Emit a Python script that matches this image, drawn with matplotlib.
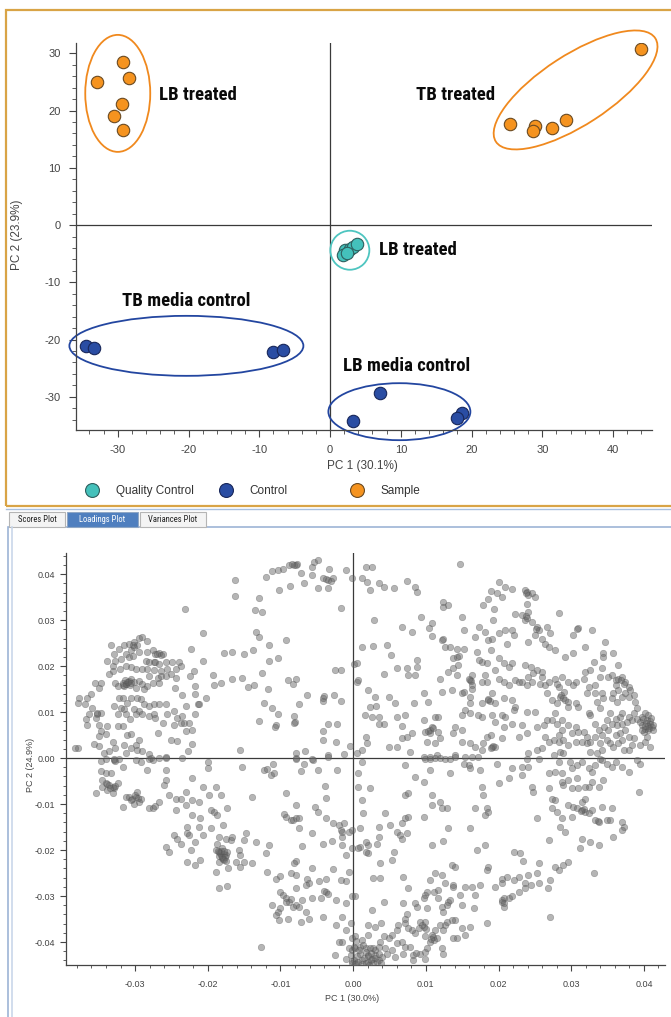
import matplotlib
matplotlib.use("Agg")
import matplotlib.pyplot as plt
from matplotlib.patches import Ellipse, Rectangle
from matplotlib.transforms import ScaledTranslation
from matplotlib.lines import Line2D
from matplotlib.ticker import MultipleLocator, FuncFormatter
from matplotlib import font_manager
import numpy as np

plt.rcParams['axes.unicode_minus'] = False
plt.rcParams['font.family'] = ['Liberation Sans', 'DejaVu Sans']

# ---------------- scores plot data ----------------
qc_pc1 = [2.1, 1.9, 2.8, 3.3, 3.8, 2.4]
qc_pc2 = [-4.4, -5.2, -4.1, -3.8, -3.3, -4.9]

control_pc1 = [-34.5, -33.3, -8.0, -6.6, 3.3, 7.1, 18.6, 17.9]
control_pc2 = [-21.2, -21.4, -22.1, -21.8, -34.3, -29.4, -32.9, -33.7]

sample_pc1 = [-29.2, -33.0, -28.4, -29.4, -30.5, -29.2, 44.0, 25.5, 29.0, 28.7, 31.4, 33.3]
sample_pc2 = [28.5, 25.0, 25.7, 21.1, 19.0, 16.6, 30.7, 17.7, 17.3, 16.4, 16.9, 18.3]

# group annotations: label, text position, ellipse centre, size (in), angle, colour
group_labels = ['LB treated', 'TB treated', 'LB treated', 'TB media control', 'LB media control']
label_pos = [(-24.1, 22.7), (12.1, 22.7), (6.9, -4.4), (-29.4, -13.3), (1.8, -24.7)]
ell_centre = [(-30.0, 23.0), (34.7, 23.6), (2.8, -4.4), (-20.3, -21.1), (9.8, -32.6)]
ell_size = [(0.65, 1.17), (1.90, 0.70), (0.39, 0.39), (2.34, 0.60), (1.42, 0.57)]
ell_angle = [0, 33, 0, 0, 0]
ell_color = ['#F0891E', '#F0891E', '#4EC5C0', '#2346A0', '#2346A0']

# ---------------- loadings plot data (values x 1e-3) ----------------
load_arch = [(-16.3,38.7),(-16.3,35.2),(-13.0,34.8),(-13.5,32.3),(-12.5,31.7),(-12.0,39.3),(-11.1,40.7),
    (-10.4,40.9),(-9.7,41.2),(-8.8,42.0),(-8.1,42.0),(-7.7,42.3),(-7.2,40.3),(-10.2,36.6),(-8.7,37.4),
    (-6.7,38.0),(-5.7,39.8),(-5.4,42.7),(-4.8,43.1),(-5.6,41.6),(-3.3,41.2),(-4.2,39.1),(-2.8,39.1),
    (-3.5,38.8),(-4.9,36.9),(-3.5,36.9),(-1.0,41.0),(-0.2,39.1),(-1.7,32.7),(-7.9,42.0),(-8.4,42.2),
    (-3.0,38.6),(-3.8,39.0)]

load_ul_scatter = [(-23.1,32.5),(-20.7,27.2),(-22.3,23.7),(-20.7,21.2),(-17.7,22.8),(-16.6,23.0),(-15.0,22.6),
    (-13.8,23.4),(-13.4,27.4),(-13.0,26.4),(-11.6,24.6),(-9.3,25.7),(-10.3,21.8),(-11.6,21.2),(-12.5,18.6),
    (-15.3,17.5),(-16.7,17.3),(-18.2,16.4),(-19.3,18.0),(-19.2,15.8),(-20.3,13.1),(-21.7,15.7),(-21.9,19.0),
    (-22.5,17.9),(-21.7,13.9),(-21.4,11.7),(-23.6,13.7),(-24.5,15.3),(-14.5,15.5),(-13.7,15.9),(-11.7,15.1),
    (-12.2,12.0),(-11.2,10.8),(-10.4,9.5),(-10.6,7.3),(-10.7,6.7),(-13.0,8.0),(-15.5,1.7),(-9.0,16.9),
    (-8.3,16.1),(-7.8,17.2),(-8.1,9.1),(-8.0,7.9),(-7.5,11.7),(-6.3,13.7),(-4.2,12.4),(-4.0,13.4),
    (-2.6,13.7),(-1.7,12.4),(-2.5,19.1),(-1.7,19.1),(0.1,20.4),(0.5,16.6),(-3.4,7.5),(-2.2,7.4),
    (-4.2,5.8),(-4.1,4.0),(-2.3,3.5),(-0.4,2.6),(-1.3,0.9),(-3.4,0.7),(-6.6,1.6),(-7.8,1.2),(-7.8,0.0),
    (-5.5,-0.4),(-8.2,7.6),(-4.1,13.0)]

load_ul_cluster = [(-33.3,24.7),(-32.2,23.7),(-31.5,24.5),(-30.9,24.8),(-30.1,25.2),(-29.5,26.1),(-29.0,26.3),
    (-28.4,25.4),(-29.7,24.5),(-30.6,23.5),(-31.3,22.6),(-32.9,22.6),(-33.8,21.2),(-33.1,20.1),(-32.7,21.2),
    (-32.0,21.5),(-30.8,21.9),(-30.3,22.3),(-29.5,23.0),(-28.3,23.1),(-27.6,23.4),(-27.2,22.6),(-26.7,22.8),
    (-26.2,22.6),(-28.5,21.2),(-28.1,20.8),(-27.4,20.9),(-26.7,20.4),(-25.8,20.8),(-24.9,20.8),(-23.9,20.8),
    (-23.7,20.1),(-24.4,19.3),(-25.6,19.3),(-26.5,19.0),(-27.4,19.2),(-28.3,19.3),(-29.0,19.3),(-29.9,19.3),
    (-30.6,19.7),(-31.3,20.1),(-32.1,19.3),(-33.1,19.0),(-33.6,18.2),(-32.8,16.4),(-31.7,16.4),(-31.3,16.1),
    (-31.1,16.6),(-31.5,15.7),(-30.6,17.2),(-30.1,16.6),(-29.5,16.8),(-29.0,16.1),(-28.3,15.7),(-28.8,15.0),
    (-28.1,17.9),(-26.9,17.5),(-26.5,17.9),(-25.8,17.9),(-25.1,18.2),(-24.4,17.5),(-26.7,16.4),(-27.6,16.4),
    (-29.9,15.3),(-32.4,15.7),(-34.7,16.4),(-35.5,16.4),(-35.0,15.3),(-36.1,14.0),(-36.6,13.1),(-37.7,13.1),
    (-37.9,12.0),(-36.9,11.7),(-35.9,10.9),(-35.3,9.5),(-34.7,9.9),(-35.4,8.8),(-36.3,9.5),(-36.8,8.4),
    (-36.6,7.3),(-35.0,7.3),(-34.7,5.8),(-33.8,6.9),(-34.0,5.3),(-35.0,4.7),(-35.6,3.1),(-35.0,2.6),
    (-33.1,3.6),(-32.7,2.2),(-33.6,1.5),(-34.3,1.1),(-37.9,2.2),(-38.2,2.2),(-32.2,13.1),(-31.7,13.1),
    (-31.1,12.0),(-30.6,13.1),(-29.7,13.1),(-29.2,12.8),(-28.8,11.7),(-28.1,11.3),(-27.4,11.7),(-26.7,11.7),
    (-25.8,11.8),(-32.9,11.3),(-32.0,10.9),(-31.5,10.6),(-30.1,10.6),(-29.5,10.2),(-32.4,9.5),(-31.3,9.5),
    (-30.7,8.6),(-29.9,9.5),(-29.0,9.5),(-28.1,9.1),(-27.4,9.5),(-27.2,8.8),(-26.2,7.7),(-25.6,9.6),
    (-24.6,10.2),(-24.2,8.8),(-24.6,7.3),(-23.7,7.7),(-23.3,7.7),(-22.6,7.7),(-23.5,9.1),(-21.7,9.6),
    (-23.0,11.3),(-21.2,11.7),(-32.4,6.9),(-31.7,6.9),(-31.1,5.1),(-30.5,5.3),(-29.5,4.0),(-29.9,2.9),
    (-31.5,2.9),(-30.6,2.2),(-29.7,1.8),(-29.0,1.5),(-28.1,0.9),(-26.9,5.5),(-25.1,4.0),(-24.2,3.8),
    (-23.0,5.8),(-22.1,3.1),(-22.7,1.5),(-22.1,6.2),(-31.3,1.1),(-32.9,-0.4),(-27.8,0.0),(-26.7,0.0),
    (-25.8,0.0),(-31.2,16.2),(-30.9,16.8),(-31.6,15.9),(-30.7,15.8),(-31.0,16.5),(-31.4,16.9),(-30.5,16.3),
    (-30.1,24.1),(-30.3,24.6),(-27.0,22.7),(-26.4,22.5),(-35.3,9.8),(-27.3,21.0)]

load_ur_left = [(1.2,39.1),(1.7,41.6),(2.6,41.6),(1.9,38.3),(2.3,36.5),(3.5,38.0),(4.2,37.2),(5.6,36.9),
    (7.4,38.6),(8.5,37.2),(8.8,36.2),(14.7,42.3),(2.9,30.1),(6.7,28.6),(8.1,27.5),(1.2,24.2),(2.8,24.3),
    (4.6,24.7),(5.2,22.4),(0.5,20.6),(6.0,19.5),(7.4,19.5),(7.6,18.0),(8.8,21.3),(8.8,19.9),(8.5,18.0),
    (4.3,18.2),(0.7,17.0),(2.0,14.8),(3.0,13.3),(4.9,13.3),(5.7,11.9),(8.4,12.0),(9.7,14.1),(10.3,12.2),
    (2.3,11.2),(3.1,11.3),(1.6,9.3),(2.6,9.0),(3.6,9.0),(4.3,7.4),(3.5,7.4),(6.1,9.0),(7.1,9.3),(6.7,7.0),
    (8.1,5.4),(7.4,4.6),(9.7,8.3),(9.9,5.7),(10.8,6.8),(11.3,9.0),(11.7,9.0),(11.7,5.7),(12.0,4.3),
    (10.6,5.4),(10.1,3.6),(11.3,3.2),(11.5,0.7),(10.6,0.3),(9.7,0.3),(7.8,1.4),(6.7,4.3),(6.0,2.5),
    (4.9,2.5),(1.7,4.6),(1.9,3.2),(1.2,1.7),(0.5,1.0),(10.6,6.2),(11.0,6.5),(10.3,5.9)]

load_ur_mid = [(9.4,30.7),(10.4,28.2),(10.8,29.3),(10.8,26.5),(12.4,34.0),(13.1,33.3),(12.4,32.9),(12.4,25.8),
    (12.7,24.2),(13.3,24.1),(14.3,23.8),(15.2,23.8),(15.2,27.8),(15.0,30.7),(13.7,21.7),(14.3,22.0),
    (14.5,22.2),(13.1,18.8),(13.8,19.5),(14.4,20.2),(14.3,18.0),(12.0,17.3),(12.2,14.4),(13.6,14.8),
    (15.0,14.1),(15.2,14.4),(16.1,17.0),(16.3,15.9),(16.3,15.1),(16.1,13.3),(16.1,11.9),(16.8,26.4),
    (17.9,33.3),(18.6,34.7),(18.9,36.4),(19.4,32.5),(19.2,30.0),(19.8,35.8),(20.0,38.3),(20.9,37.2),
    (21.8,36.7),(20.5,35.1),(17.3,28.6),(18.2,27.5),(18.6,25.7),(19.1,25.8),(20.0,27.2),(20.9,27.8),
    (21.2,24.9),(21.8,27.8),(22.1,26.7),(22.3,31.4),(23.2,31.1),(23.7,30.0),(17.7,20.9),(18.4,20.6),
    (17.0,23.1),(17.3,21.4),(18.9,23.5),(20.0,21.7),(20.7,20.6),(21.4,19.9),(21.8,20.6),(19.5,19.1),
    (18.4,16.6),(17.7,16.6),(18.2,18.0),(16.3,18.0),(20.0,17.3),(20.7,16.6),(21.4,15.9),(22.3,17.0),
    (22.8,16.6),(23.2,16.6),(19.1,14.1),(19.5,12.0),(18.6,12.6),(17.7,11.9),(20.7,13.0),(21.8,12.6),
    (22.3,11.2),(19.1,9.3),(19.5,7.9),(20.5,9.3),(20.9,9.0),(17.7,9.0),(17.2,9.3),(16.1,9.7),(15.4,10.4),
    (15.0,9.3),(15.0,6.1),(14.0,6.8),(13.8,5.4),(15.0,3.6),(16.1,3.2),(16.8,2.5),(17.9,3.2),(18.4,4.6),
    (18.9,5.0),(19.1,2.5),(19.5,2.5),(20.5,4.3),(20.7,6.8),(21.8,7.5),(22.1,10.4),(22.8,4.6),(23.9,5.4),
    (23.9,10.1),(23.2,7.2),(25.0,10.1),(25.3,6.8),(26.2,7.2),(26.7,8.3),(27.3,8.3),(27.8,9.7),(28.0,7.5),
    (28.7,8.3),(26.4,4.6),(26.9,3.6),(27.6,3.9),(28.3,3.6),(28.9,3.9),(29.6,2.8),(30.6,3.6),(31.5,3.6),
    (32.2,3.2),(32.6,3.6),(14.0,0.7),(15.4,0.3),(16.3,0.3),(17.2,0.3),(17.7,1.7),(24.1,1.0),(25.3,1.7),
    (26.0,2.1),(27.6,0.7),(28.5,1.4),(19.2,2.7),(19.0,2.3),(16.2,16.8),(16.0,17.3),(18.8,12.4),(18.5,12.8),
    (12.2,25.6)]

load_ur_right = [(23.7,36.5),(23.9,36.2),(24.1,35.4),(24.6,35.8),(25.0,35.1),(23.9,33.6),(24.1,31.8),
    (23.9,30.4),(24.6,29.6),(25.3,28.6),(25.5,27.8),(25.0,26.7),(26.0,26.0),(26.7,28.6),(27.1,27.1),
    (28.3,31.6),(24.1,25.3),(26.4,24.9),(26.9,24.2),(27.7,23.6),(29.2,22.0),(30.3,22.8),(30.9,28.3),
    (30.3,26.7),(32.8,27.8),(31.9,24.2),(33.1,20.9),(34.7,25.3),(34.4,22.8),(34.4,22.0),(35.8,22.8),
    (36.4,20.2),(34.2,19.5),(33.9,17.7),(32.6,19.1),(31.9,18.8),(31.7,17.3),(30.6,16.6),(30.3,15.9),
    (29.6,16.6),(28.7,17.7),(27.8,17.3),(28.0,16.2),(28.3,15.5),(29.0,14.4),(28.5,13.3),(29.2,12.6),
    (29.6,12.2),(29.6,11.2),(30.6,11.9),(31.0,11.2),(28.0,11.9),(27.3,12.6),(26.7,14.1),(26.0,17.7),
    (26.0,18.8),(25.3,19.1),(24.4,19.9),(24.8,18.4),(23.7,20.2),(24.1,17.7),(24.6,16.6),(23.9,15.9),
    (25.7,16.2),(26.4,15.9),(26.9,16.6),(32.4,15.5),(33.3,15.9),(33.3,14.1),(32.2,14.1),(32.4,9.7),
    (32.6,9.3),(33.3,7.5),(34.0,10.8),(33.5,12.2),(34.4,13.0),(34.2,14.1),(35.1,17.7),(35.6,18.0),
    (36.1,17.0),(36.5,17.3),(37.0,17.7),(37.4,16.6),(37.9,15.5),(38.1,14.8),(36.5,14.8),(35.8,14.1),
    (35.6,13.0),(36.3,12.2),(37.0,13.3),(37.4,14.1),(37.9,13.3),(38.6,13.7),(38.8,12.2),(39.0,10.8),
    (38.6,9.7),(37.9,9.0),(37.0,9.7),(36.7,9.0),(36.1,8.6),(35.4,9.7),(34.9,8.3),(35.6,7.5),(36.3,7.2),
    (37.0,7.5),(37.7,7.9),(38.3,8.3),(39.0,8.6),(39.7,9.0),(40.2,9.7),(40.6,9.3),(40.4,8.3),(40.9,7.5),
    (41.1,6.8),(40.6,6.1),(40.2,6.4),(39.7,7.2),(39.5,7.9),(40.0,5.7),(40.4,4.6),(40.9,2.5),(40.2,3.6),
    (39.5,2.8),(38.6,4.3),(37.9,4.6),(37.4,6.1),(36.7,5.4),(36.1,5.0),(35.1,6.1),(34.5,6.8),(33.8,6.1),
    (34.2,5.0),(34.9,3.9),(35.4,3.2),(35.8,2.5),(36.5,3.2),(37.0,3.9),(37.2,1.7),(37.9,1.7),(38.3,2.8),
    (33.3,4.6),(33.9,3.2),(34.2,1.7),(33.5,1.0),(32.6,1.4),(32.2,4.6),(31.7,5.7),(31.0,5.7),(30.1,5.4),
    (30.6,6.8),(29.6,7.2),(28.7,6.1),(28.3,5.0),(28.9,1.0),(40.8,8.0),(40.5,7.0),(41.0,8.8),(40.3,7.7),
    (40.7,6.5),(41.2,7.3),(39.9,8.4),(40.1,6.9),(39.8,6.0),(41.3,6.0),(36.8,17.0),(37.2,16.2),(36.2,16.0),
    (28.6,13.8),(28.9,13.0),(23.8,36.0),(23.8,30.8),(25.1,28.0),(30.8,28.0)]

load_ll = [(-34.7,-0.7),(-34.0,-0.1),(-32.9,-0.1),(-32.2,-0.2),(-31.7,-1.9),(-32.7,-0.7),(-29.9,-0.4),
    (-29.2,-0.8),(-28.1,-0.1),(-27.6,-0.4),(-25.8,0.3),(-28.3,-2.6),(-34.7,-2.8),(-34.0,-3.3),(-33.3,-3.3),
    (-34.5,-4.8),(-34.0,-5.5),(-33.6,-5.9),(-33.1,-6.2),(-32.9,-6.6),(-33.8,-7.0),(-33.1,-7.7),(-32.4,-5.5),
    (-35.4,-7.7),(-34.5,-6.2),(-31.7,-10.6),(-31.3,-8.4),(-30.8,-8.4),(-30.4,-8.8),(-29.9,-8.4),(-29.7,-7.3),
    (-29.2,-8.8),(-29.4,-9.5),(-30.1,-9.9),(-30.6,-9.1),(-28.1,-10.9),(-27.6,-10.9),(-27.2,-10.4),
    (-26.7,-9.5),(-25.8,-4.8),(-25.8,-2.6),(-26.0,-5.9),(-25.3,-8.0),(-24.4,-8.8),(-24.4,-11.3),(-23.7,-8.8),
    (-23.0,-10.1),(-23.0,-7.3),(-22.1,-9.1),(-21.2,-9.5),(-22.1,-4.4),(-20.6,-6.2),(-18.9,-6.2),(-19.8,-8.0),
    (-18.2,-8.0),(-17.3,-10.9),(-19.6,-11.3),(-19.1,-11.8),(-18.7,-12.4),(-22.1,-12.4),(-21.0,-13.1),
    (-22.8,-14.9),(-21.2,-14.9),(-19.6,-15.3),(-17.9,-14.6),(-23.5,0.1),(-20.0,-0.8),(-20.0,-2.2),
    (-15.3,-1.9),(-13.9,-8.4),(-12.2,-2.6),(-11.8,-2.4),(-11.3,-3.7),(-10.9,-3.3),(-11.0,-1.2),(-7.9,-0.1),
    (-5.6,-0.2),(-6.7,-1.2),(-7.2,-2.8),(-4.9,-2.6),(-2.2,-2.6),(-3.5,0.3),(-33.9,-5.7),(-33.4,-6.4),
    (-32.8,-6.0),(-30.0,-8.0),(-29.6,-8.6)]

load_ll_mid = [(-24.6,-16.7),(-24.2,-17.5),(-23.7,-18.6),(-22.8,-16.4),(-22.6,-16.7),(-21.7,-18.2),
    (-20.7,-16.7),(-18.4,-17.1),(-18.7,-18.6),(-17.5,-17.5),(-16.8,-17.8),(-16.6,-17.1),(-14.8,-16.4),
    (-15.0,-17.8),(-13.4,-18.3),(-25.8,-19.3),(-25.3,-20.4),(-22.3,-20.0),(-22.8,-22.5),(-21.7,-23.3),
    (-21.0,-22.2),(-18.9,-20.0),(-18.4,-20.4),(-18.2,-21.1),(-18.0,-21.8),(-17.8,-22.2),(-18.4,-22.5),
    (-17.5,-21.1),(-17.3,-20.4),(-18.0,-19.6),(-15.7,-20.0),(-15.5,-21.1),(-16.1,-22.5),(-15.5,-23.6),
    (-15.0,-22.5),(-13.9,-22.9),(-18.9,-24.7),(-17.2,-24.0),(-18.5,-28.2),(-17.3,-27.8),(-12.0,-20.7),
    (-11.6,-18.9),(-11.8,-24.7),(-10.6,-26.2),(-10.0,-25.6),(-8.6,-25.1),(-7.9,-25.4),(-7.9,-22.4),
    (-8.1,-22.9),(-7.0,-19.1),(-5.6,-16.4),(-4.2,-18.6),(-2.9,-18.0),(-1.6,-18.9),(-1.0,-21.1),(-1.5,-17.1),
    (-1.9,-14.6),(-1.7,-15.7),(-1.2,-14.2),(-1.5,-16.0),(-0.6,-16.0),(-0.1,-15.7),(-0.1,-19.6),(-0.6,-24.7),
    (-1.0,-26.7),(-1.7,-26.5),(-2.8,-24.1),(-3.8,-26.2),(-4.7,-26.7),(-5.6,-24.0),(-6.3,-26.3),(-6.1,-27.2),
    (-6.5,-27.6),(-3.8,-29.1),(-4.0,-28.9),(-3.4,-29.6),(-2.4,-30.9),(-1.0,-31.6),(-0.1,-30.1),
    (-18.3,-20.7),(-17.8,-20.9),(-18.1,-21.5),(-17.6,-21.6),(-18.5,-21.3),(-17.9,-22.0),(-18.2,-20.1),
    (-17.7,-20.3),(-18.6,-20.2),(-17.5,-22.3)]

load_ll_low = [(-11.1,-32.0),(-10.0,-29.1),(-9.7,-29.8),(-9.3,-30.5),(-8.8,-31.2),(-8.3,-32.3),(-7.9,-32.0),
    (-7.4,-32.3),(-10.0,-32.7),(-10.4,-33.4),(-10.6,-34.1),(-10.2,-35.2),(-9.0,-34.9),(-7.2,-35.6),
    (-6.5,-33.4),(-6.1,-34.9),(-7.0,-30.9),(-7.9,-28.3),(-5.6,-30.5),(-4.4,-30.5),(-4.2,-34.5),(-2.4,-36.3),
    (-1.5,-34.5),(-1.0,-37.4),(-0.3,-35.9),(-0.1,-39.2),(-1.5,-39.9),(-1.9,-39.9),(-0.6,-41.4),(-0.1,-41.7),
    (0.1,-41.0),(-1.0,-43.6),(-0.1,-44.6),(0.4,-44.6),(0.1,-43.9),(-2.5,-42.8),(-12.7,-41.0),(-9.3,-12.8),
    (-8.6,-13.5),(-7.9,-13.1),(-7.4,-13.1),(-7.4,-15.3),(-7.9,-10.2),(-8.3,-13.5),(-5.2,-10.6),(-4.9,-11.7),
    (-3.8,-8.6),(-3.9,-6.0),(-9.3,-7.7),(-9.5,-12.2),(-3.8,-13.1),(-2.8,-14.2),(-9.2,-31.4),(-8.6,-30.7)]

load_lr_right = [(9.9,-0.1),(10.6,-0.1),(11.3,0.1),(12.0,0.1),(12.7,-0.1),(13.3,-0.1),(14.0,0.3),(15.2,-1.2),
    (15.9,-1.5),(16.1,-2.2),(17.5,-2.6),(19.8,-1.2),(21.8,-2.2),(23.2,-1.9),(24.1,-1.9),(23.9,-0.1),
    (25.5,-0.1),(28.3,-0.8),(29.9,-0.8),(26.9,-3.3),(27.8,-3.0),(28.7,-3.3),(30.1,-2.2),(30.8,-1.5),
    (31.5,-0.8),(32.4,-2.2),(32.8,-3.0),(33.3,-1.5),(34.0,-0.1),(34.2,-0.4),(34.9,-1.2),(35.6,-1.9),
    (36.1,-0.8),(37.0,-1.9),(37.9,-3.0),(39.0,-0.4),(39.5,-1.2),(39.3,-7.3),(34.4,-4.8),(33.8,-6.2),
    (32.8,-5.1),(32.4,-6.2),(31.9,-6.2),(31.0,-6.6),(30.1,-6.6),(28.9,-5.9),(28.7,-5.1),(29.6,-4.8),
    (30.8,-4.4),(26.9,-6.6),(27.3,-8.8),(27.8,-9.1),(27.3,-10.9),(28.0,-11.7),(29.6,-10.2),(30.3,-10.6),
    (30.8,-10.9),(31.5,-11.3),(31.9,-11.7),(32.4,-12.0),(32.8,-11.3),(31.5,-9.5),(31.9,-8.8),(34.2,-10.6),
    (35.6,-10.9),(33.3,-13.5),(33.8,-13.8),(34.9,-13.5),(35.4,-13.5),(37.0,-13.8),(37.2,-14.9),(37.0,-15.7),
    (35.8,-17.1),(28.7,-13.1),(29.2,-16.0),(28.5,-14.9),(30.1,-12.8),(31.5,-17.5),(31.2,-19.6),(32.6,-18.2),
    (33.8,-18.9),(33.1,-25.1),(28.3,-24.3),(27.8,-23.6),(29.6,-22.5),(28.9,-23.3),(27.1,-26.5),(26.8,-28.3),
    (27.1,-34.5),(26.9,-17.8),(25.3,-13.1),(24.6,-6.2),(24.8,-7.3),(23.2,-3.7),(21.4,-4.4),(20.0,-5.5),
    (17.7,-6.2),(17.9,-8.0),(16.8,-10.9),(18.4,-10.9),(18.6,-11.7),(18.2,-12.4),(16.1,-15.3),(18.2,-18.8),
    (17.0,-20.0),(22.1,-20.4),(23.0,-20.7),(23.4,-22.4),(25.5,-22.9),(25.3,-25.1),(24.1,-25.4),(23.7,-27.2),
    (22.8,-25.8),(22.1,-26.5),(21.2,-25.8),(20.5,-26.2),(20.5,-27.2),(19.5,-28.0),(18.6,-23.6),(18.4,-24.3),
    (17.5,-27.6),(16.3,-28.0),(16.8,-29.8),(20.7,-30.5),(20.5,-31.2),(20.7,-32.3),(21.4,-30.5),(21.8,-30.1),
    (22.8,-29.1),(23.7,-28.3),(24.4,-27.6),(25.5,-27.2),(18.4,-35.9),(20.5,-30.9),(20.7,-31.5),(31.8,-11.1),
    (33.7,-13.6),(31.3,-11.6)]

load_lr_left = [(1.2,-0.8),(0.7,-3.3),(0.7,-6.2),(2.3,-6.6),(1.2,-9.1),(1.4,-12.0),(4.4,-12.0),(7.2,-1.5),
    (8.5,-4.1),(9.7,-5.1),(10.6,-2.6),(13.3,-3.3),(7.2,-8.0),(7.6,-7.5),(10.8,-8.0),(12.0,-9.5),(12.9,-10.9),
    (10.8,-10.2),(12.2,-10.9),(9.7,-12.8),(7.2,-13.1),(7.6,-12.8),(6.7,-14.2),(5.1,-14.6),(1.0,-15.3),
    (3.5,-14.9),(6.0,-16.0),(6.5,-16.7),(6.7,-17.5),(7.4,-16.4),(3.5,-17.1),(3.3,-18.6),(2.1,-18.9),
    (1.7,-18.2),(1.0,-19.3),(0.7,-19.6),(2.1,-20.7),(1.7,-20.4),(5.6,-20.4),(5.3,-22.2),(3.7,-22.9),
    (10.8,-18.9),(12.4,-18.0),(13.1,-15.3),(13.6,-23.3),(14.0,-23.6),(2.8,-26.0),(3.7,-26.0),(6.9,-25.8),
    (7.6,-28.3),(11.3,-25.1),(12.2,-25.4),(12.7,-27.2),(13.8,-27.6),(13.8,-28.0),(10.6,-26.5),(10.1,-29.1),
    (9.9,-29.8),(9.7,-30.4),(11.1,-29.1),(11.7,-28.7),(11.7,-30.5),(10.1,-32.7),(8.8,-32.3),(8.5,-31.6),
    (7.4,-33.8),(6.9,-31.6),(4.2,-31.2),(2.6,-33.0),(0.3,-30.1),(15.4,-28.0),(14.7,-29.8),(15.0,-32.0),
    (16.6,-32.7),(13.1,-31.2),(12.9,-32.0),(13.3,-30.9),(12.2,-32.3),(12.4,-33.4),(14.0,-35.2),(13.6,-35.2),
    (15.0,-37.0),(16.1,-36.7),(15.4,-38.5),(14.3,-39.2),(13.8,-39.2),(12.7,-36.3),(12.4,-37.4),(11.3,-37.4),
    (10.8,-38.5),(11.1,-39.6),(11.5,-39.2),(9.9,-38.8),(9.7,-36.7),(9.9,-35.6),(9.2,-35.6),(9.0,-37.0),
    (8.5,-38.1),(8.1,-37.4),(7.6,-37.0),(7.2,-35.9),(7.2,-34.9),(6.2,-36.3),(6.0,-37.4),(5.3,-38.5),
    (4.9,-39.2),(4.2,-38.8),(3.7,-39.9),(3.9,-35.9),(3.0,-36.7),(2.1,-36.3),(2.1,-38.5),(1.2,-39.6),
    (0.3,-38.8),(0.3,-41.4),(1.0,-41.0),(1.7,-41.4),(2.3,-41.4),(3.0,-41.7),(3.5,-41.0),(4.4,-41.4),
    (4.6,-42.5),(5.3,-41.7),(6.0,-40.3),(6.7,-39.9),(7.2,-41.0),(7.8,-41.0),(8.3,-42.8),(9.2,-42.5),
    (9.9,-42.1),(9.9,-43.6),(8.3,-43.9),(6.9,-42.5),(5.8,-43.2),(1.7,-42.1),(2.1,-42.8),(2.6,-43.6),
    (3.0,-42.8),(3.5,-43.9),(1.2,-43.9),(0.7,-44.3),(2.1,-44.3),(2.8,-44.6),(3.3,-44.3),(12.2,-41.4),
    (12.4,-42.5),(10.1,-41.4),(10.6,-39.9),(12.0,-36.3),(12.9,-35.6),(0.5,-43.0),(1.0,-42.5),(1.5,-43.4),
    (2.0,-43.0),(2.5,-42.4),(3.0,-43.5),(1.2,-44.8),(1.8,-44.6),(2.4,-44.0),(0.8,-41.8),(3.6,-42.6),
    (2.7,-41.2),(1.3,-40.6),(0.4,-39.8),(4.0,-43.3),(-0.3,-42.8),(-0.2,-44.2),(0.2,-44.8),(2.2,-45.0),
    (3.8,-44.6),(9.5,-36.2),(10.0,-37.2),(11.0,-38.9),(10.7,-39.3),(8.6,-42.3)]

# bold condensed face for the group labels: use a narrow family when one is installed
installed = {f.name for f in font_manager.fontManager.ttflist}
narrow = [n for n in ['Liberation Sans Narrow', 'Roboto Condensed', 'DejaVu Sans Condensed',
                      'Open Sans Condensed', 'Arial Narrow'] if n in installed]
label_family = narrow + ['Liberation Sans', 'DejaVu Sans']
label_size = 13.5 if narrow else 11.5

# ---------------- figure ----------------
W, H = 671, 1017
fig = plt.figure(figsize=(W / 100, H / 100), dpi=100)


def fx(px):
    return px / W


def fy(py):
    return 1 - py / H


def style_axes(ax, fs, major, minor, xpad, ypad, ticklen):
    for s in ['top', 'right']:
        ax.spines[s].set_visible(False)
    for s in ['left', 'bottom']:
        ax.spines[s].set_color('#444444')
        ax.spines[s].set_linewidth(0.9)
    ax.xaxis.set_major_locator(MultipleLocator(major))
    ax.xaxis.set_minor_locator(MultipleLocator(minor))
    ax.yaxis.set_major_locator(MultipleLocator(major))
    ax.yaxis.set_minor_locator(MultipleLocator(minor))
    ax.tick_params(which='major', direction='out', length=ticklen, width=0.8, color='#444444',
                   labelsize=fs, labelcolor='#444444')
    ax.tick_params(which='minor', direction='out', length=ticklen * 0.6, width=0.6, color='#444444')
    ax.tick_params(axis='x', pad=xpad)
    ax.tick_params(axis='y', pad=ypad)
    ax.axhline(0, color='#3a3a3a', lw=0.9, zorder=1)
    ax.axvline(0, color='#3a3a3a', lw=0.9, zorder=1)


# frames
fig.patches.append(Rectangle((fx(6), fy(506)), fx(700) - fx(6), fy(10) - fy(506), transform=fig.transFigure,
                             fill=False, ec='#D9A446', lw=1.6))
fig.patches.append(Rectangle((fx(8), fy(1030)), fx(700) - fx(8), fy(527) - fy(1030), transform=fig.transFigure,
                             fill=False, ec='#9DB4D6', lw=1.2))
fig.lines.append(Line2D([fx(11.5), fx(11.5)], [fy(527), 0], transform=fig.transFigure, color='#C9D7EA', lw=1.2))
fig.lines.append(Line2D([fx(6), fx(671)], [fy(509), fy(509)], transform=fig.transFigure, color='#A9C0DE', lw=1.0))

# tabs
tab_names = ['Scores Plot', 'Loadings Plot', 'Variances Plot']
tab_x = [(9, 65), (67, 138), (140, 206)]
for name, (x0, x1) in zip(tab_names, tab_x):
    sel = name == 'Loadings Plot'
    fig.patches.append(Rectangle((fx(x0), fy(527)), fx(x1) - fx(x0), fy(512) - fy(527), transform=fig.transFigure,
                                 fc='#4F7FBF' if sel else '#F4F4F4', ec='#8FA6C4' if sel else '#B5B5B5', lw=0.8))
    fig.text(fx((x0 + x1) / 2), fy(519.5), name, ha='center', va='center', fontsize=6.2,
             color='white' if sel else '#222222', family=narrow + ['Liberation Sans'])

# ---------------- scores plot ----------------
ax1 = fig.add_axes([fx(76), fy(430), fx(652) - fx(76), fy(43) - fy(430)])
ax1.set_xlim(-35.9, 45.5)
ax1.set_ylim(-35.8, 31.8)
style_axes(ax1, 8, 10, 2, 6, 6, 5)

pt_size = 80
ax1.scatter(qc_pc1, qc_pc2, s=pt_size, c='#44C1BB', edgecolors='#2E5F5E', linewidths=0.8, zorder=3)
ax1.scatter(control_pc1, control_pc2, s=pt_size, c='#2A4DA3', edgecolors='#18275A', linewidths=0.8, zorder=3)
ax1.scatter(sample_pc1, sample_pc2, s=pt_size, c='#F5931F', edgecolors='#6A4A22', linewidths=0.8, zorder=3)

for (cx, cy), (w, h), ang, col in zip(ell_centre, ell_size, ell_angle, ell_color):
    tr = fig.dpi_scale_trans + ScaledTranslation(cx, cy, ax1.transData)
    ax1.add_patch(Ellipse((0, 0), w, h, angle=ang, transform=tr, fill=False, ec=col, lw=1.3,
                          clip_on=False, zorder=2))

for txt, (tx, ty) in zip(group_labels, label_pos):
    ax1.text(tx, ty, txt, ha='left', va='center', fontsize=label_size, fontweight='bold', color='#0a0a0a',
             family=label_family, zorder=4)

ax1.set_xlabel('PC 1 (30.1%)', fontsize=8.5, color='#444444')
ax1.xaxis.set_label_coords(0.498, -0.077)
ax1.set_ylabel('PC 2 (23.9%)', fontsize=8.5, color='#444444')
ax1.yaxis.set_label_coords(-0.092, 0.505)

# legend, one entry per slot
legend_items = [('Quality Control', '#44C1BB', '#2E5F5E', 92), ('Control', '#2A4DA3', '#18275A', 226),
                ('Sample', '#F5931F', '#6A4A22', 357)]
for lab, fc, ec, mx in legend_items:
    h = Line2D([], [], marker='o', ls='', ms=10, mfc=fc, mec=ec, mew=0.8)
    fig.legend(handles=[h], labels=[lab], loc='center left', bbox_to_anchor=(fx(mx - 7), fy(491)),
               frameon=False, fontsize=8.5, handlelength=1.2, handletextpad=1.4, borderpad=0,
               borderaxespad=0, labelcolor='#333333')

# ---------------- loadings plot ----------------
ax2 = fig.add_axes([fx(66), fy(965), fx(665) - fx(66), fy(553) - fy(965)])
ax2.set_xlim(-0.0395, 0.0429)
ax2.set_ylim(-0.0450, 0.0446)
style_axes(ax2, 6.5, 0.01, 0.002, 7, 3.5, 4)
fmt = FuncFormatter(lambda v, _: ('%.2f' % v).replace('-0.00', '0.00'))
ax2.xaxis.set_major_formatter(fmt)
ax2.yaxis.set_major_formatter(fmt)

loadings = np.array(load_arch + load_ul_scatter + load_ul_cluster + load_ur_left + load_ur_mid +
                    load_ur_right + load_ll + load_ll_mid + load_ll_low + load_lr_right + load_lr_left) * 1e-3
ax2.scatter(loadings[:, 0], loadings[:, 1], s=22, c='#666666', alpha=0.48, edgecolors='#505050',
            linewidths=0.4, zorder=3)

ax2.set_xlabel('PC 1 (30.0%)', fontsize=6.5, color='#444444')
ax2.xaxis.set_label_coords(0.477, -0.071)
ax2.set_ylabel('PC 2 (24.9%)', fontsize=6.5, color='#444444')
ax2.yaxis.set_label_coords(-0.052, 0.485)

fig.savefig('out.png', dpi=100)
